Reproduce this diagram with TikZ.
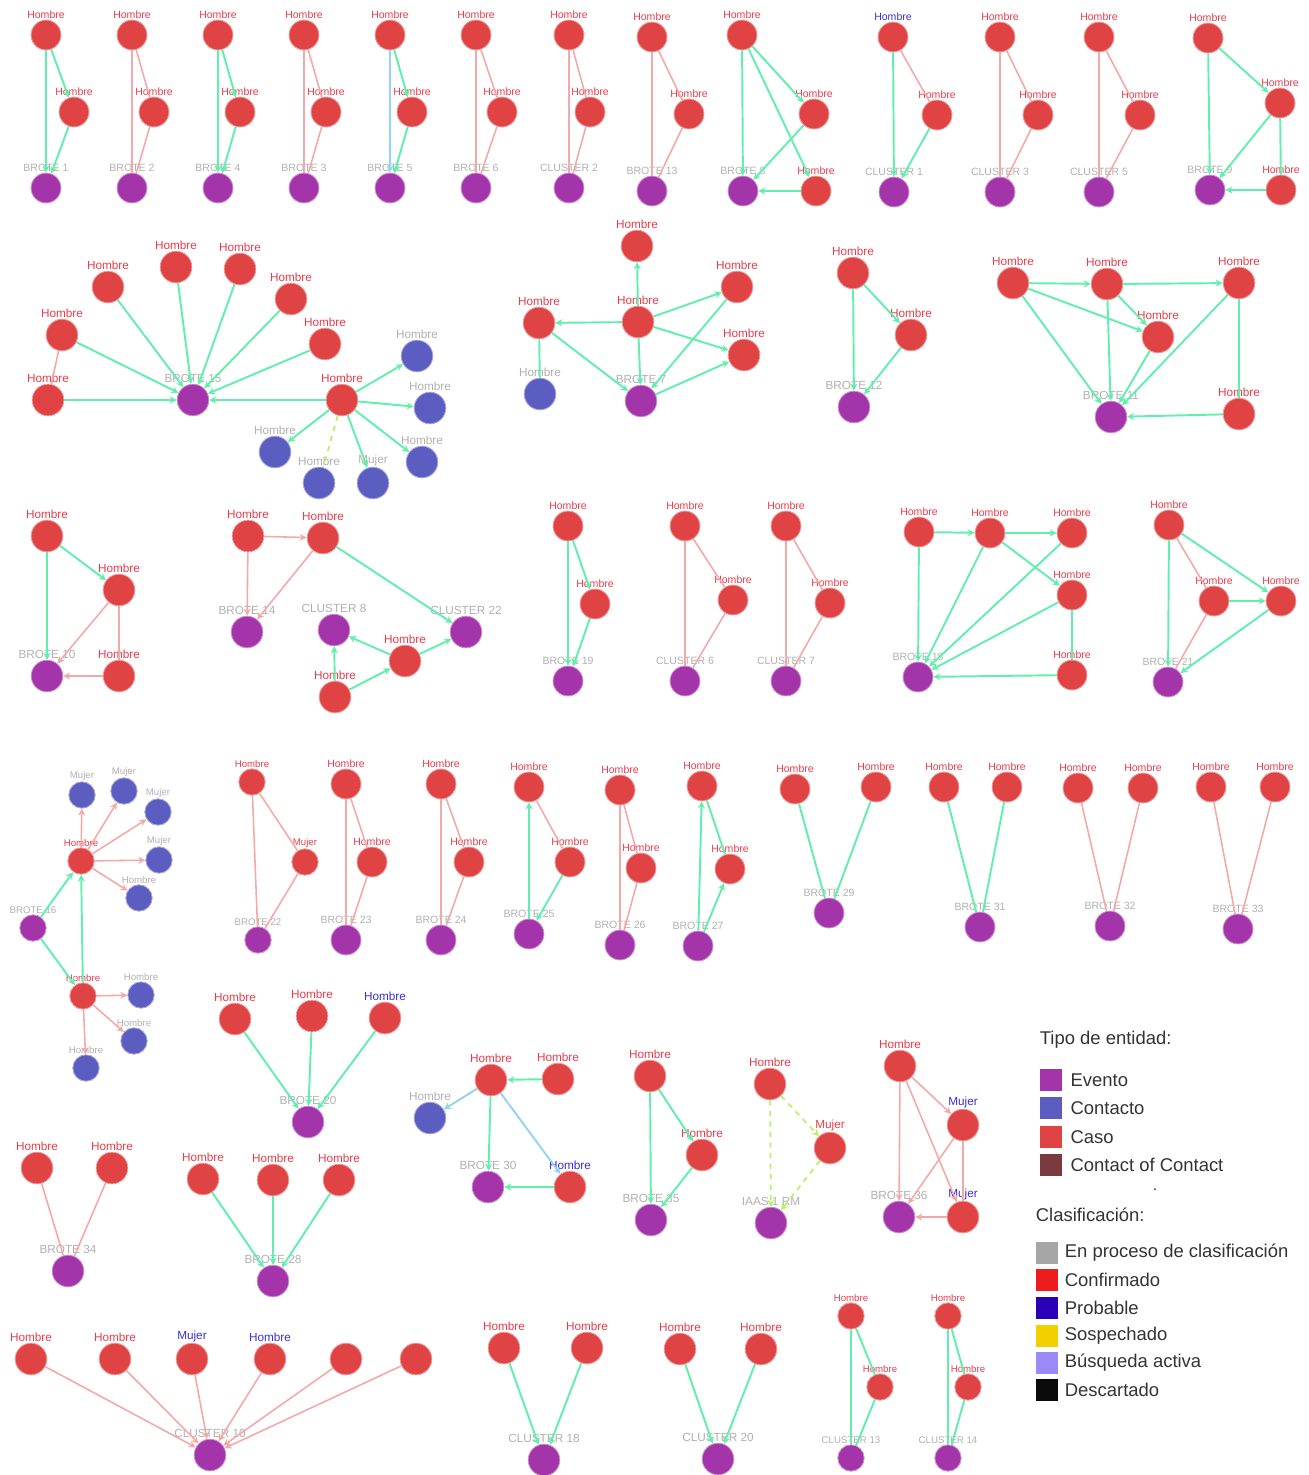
\documentclass[tikz,border=0pt]{standalone}
\usepackage{fontspec}
\setmainfont{Liberation Sans}
\usetikzlibrary{arrows.meta,positioning}
\definecolor{moradoevt}{HTML}{A334AA}
\definecolor{azulcto}{HTML}{5B5EC0}
\definecolor{rojocaso}{HTML}{E04343}
\definecolor{cafecofc}{HTML}{7A3A3E}
\definecolor{verde}{HTML}{62EEAC}
\definecolor{rosa}{HTML}{F5A8A8}
\definecolor{celeste}{HTML}{92D4F2}
\definecolor{lima}{HTML}{B8F06A}
\definecolor{txtrojo}{HTML}{EC3B4A}
\definecolor{txtgris}{HTML}{B0B0B0}
\definecolor{txtazul}{HTML}{3B2FD6}
\definecolor{gproceso}{HTML}{A6A6A6}
\definecolor{gconfirm}{HTML}{EE1D1D}
\definecolor{gprobable}{HTML}{2A00B8}
\definecolor{gsospecha}{HTML}{F2D000}
\definecolor{gbusqueda}{HTML}{9B8AF6}
\definecolor{gdescarte}{HTML}{0A0A0A}
\tikzset{
  nodo/.style={circle, inner sep=0pt, minimum size=17pt, line width=0.5pt},
  caso/.style={nodo, fill=rojocaso, draw=rojocaso!55!white},
  evt/.style={nodo, fill=moradoevt, draw=moradoevt!55!white},
  cto/.style={nodo, fill=azulcto, draw=azulcto!55!white},
  lr/.style={text=txtrojo}, lg/.style={text=txtgris}, lb/.style={text=txtazul},
  every label/.style={font=\fontsize{6}{7}\selectfont, inner sep=1.2pt},
  label distance=-1pt,
  mayor/.style={caso/.append style={minimum size=18pt}, evt/.append style={minimum size=18pt},
    cto/.append style={minimum size=18pt}, every label/.append style={font=\fontsize{6.7}{8}\selectfont}},
  menor/.style={caso/.append style={minimum size=15pt}, evt/.append style={minimum size=15pt},
    cto/.append style={minimum size=15pt}, every label/.append style={font=\fontsize{5.5}{6.5}\selectfont}},
  gr/.style={draw=verde, line width=1.1pt},
  gra/.style={gr, -{Stealth[length=4pt,width=4pt]}},
  pk/.style={draw=rosa, line width=0.9pt},
  pka/.style={pk, -{Stealth[length=4pt,width=4pt]}},
  cela/.style={draw=celeste, line width=1.1pt, -{Stealth[length=4pt,width=4pt]}},
  dsh/.style={draw=lima, line width=1pt, dashed, -{Stealth[length=4pt,width=4pt]}},
  cuadro/.style={minimum size=12.5pt, inner sep=0pt},
  leyenda/.style={font=\fontsize{10.5}{12}\selectfont, text=black!80, inner sep=2pt},
}
\begin{document}
\begin{tikzpicture}[x=0.02cm, y=-0.02cm]
\useasboundingbox (0,0) rectangle (1309,1475);

% ---- fila 1
\node[caso, label={[lr]above:Hombre}] (b1h) at (46,35) {};
\node[caso, label={[lr]above:Hombre}] (b1m) at (74,112) {};
\node[evt, label={[lg]above:BROTE 1}] (b1) at (46,188) {};
\draw[gra] (b1h) -- (b1);
\draw[gra] (b1h) -- (b1m);
\draw[gra] (b1m) -- (b1);

\node[caso, label={[lr]above:Hombre}] (b2h) at (132,35) {};
\node[caso, label={[lr]above:Hombre}] (b2m) at (154,112) {};
\node[evt, label={[lg]above:BROTE 2}] (b2) at (132,188) {};
\draw[pk] (b2h) -- (b2);
\draw[pk] (b2h) -- (b2m);
\draw[pk] (b2m) -- (b2);

\node[caso, label={[lr]above:Hombre}] (b4h) at (218,35) {};
\node[caso, label={[lr]above:Hombre}] (b4m) at (240,112) {};
\node[evt, label={[lg]above:BROTE 4}] (b4) at (218,188) {};
\draw[gra] (b4h) -- (b4);
\draw[gra] (b4h) -- (b4m);
\draw[gra] (b4m) -- (b4);

\node[caso, label={[lr]above:Hombre}] (b3h) at (304,35) {};
\node[caso, label={[lr]above:Hombre}] (b3m) at (326,112) {};
\node[evt, label={[lg]above:BROTE 3}] (b3) at (304,188) {};
\draw[pk] (b3h) -- (b3);
\draw[pk] (b3h) -- (b3m);
\draw[pk] (b3m) -- (b3);

\node[caso, label={[lr]above:Hombre}] (b5h) at (390,35) {};
\node[caso, label={[lr]above:Hombre}] (b5m) at (412,112) {};
\node[evt, label={[lg]above:BROTE 5}] (b5) at (390,188) {};
\draw[cela] (b5h) -- (b5);
\draw[gra] (b5h) -- (b5m);
\draw[gra] (b5m) -- (b5);

\node[caso, label={[lr]above:Hombre}] (b6h) at (476,35) {};
\node[caso, label={[lr]above:Hombre}] (b6m) at (502,112) {};
\node[evt, label={[lg]above:BROTE 6}] (b6) at (476,188) {};
\draw[pk] (b6h) -- (b6);
\draw[pk] (b6h) -- (b6m);
\draw[pk] (b6m) -- (b6);

\node[caso, label={[lr]above:Hombre}] (c2h) at (569,35) {};
\node[caso, label={[lr]above:Hombre}] (c2m) at (590,112) {};
\node[evt, label={[lg]above:CLUSTER 2}] (c2) at (569,188) {};
\draw[pk] (c2h) -- (c2);
\draw[pk] (c2h) -- (c2m);
\draw[pk] (c2m) -- (c2);

\node[caso, label={[lr]above:Hombre}] (b13h) at (652,37) {};
\node[caso, label={[lr]above:Hombre}] (b13m) at (689,114) {};
\node[evt, label={[lg]above:BROTE 13}] (b13) at (652,191) {};
\draw[pk] (b13h) -- (b13);
\draw[pk] (b13h) -- (b13m);
\draw[pk] (b13m) -- (b13);

\node[caso, label={[lr]above:Hombre}] (b8h) at (742,35) {};
\node[caso, label={[lr]above:Hombre}] (b8m) at (814,114) {};
\node[caso, label={[lr]above:Hombre}] (b8d) at (816,191) {};
\node[evt, label={[lg]above:BROTE 8}] (b8) at (743,191) {};
\draw[gra] (b8h) -- (b8);
\draw[gra] (b8h) -- (b8m);
\draw[gra] (b8h) -- (b8d);
\draw[gra] (b8m) -- (b8);
\draw[gra] (b8d) -- (b8);

\node[caso, label={[lb]above:Hombre}] (c1h) at (893,37) {};
\node[caso, label={[lr]above:Hombre}] (c1m) at (937,115) {};
\node[evt, label={[lg]above:CLUSTER 1}] (c1) at (894,192) {};
\draw[gra] (c1h) -- (c1);
\draw[pk] (c1h) -- (c1m);
\draw[gra] (c1m) -- (c1);

\node[caso, label={[lr]above:Hombre}] (c3h) at (1000,37) {};
\node[caso, label={[lr]above:Hombre}] (c3m) at (1038,115) {};
\node[evt, label={[lg]above:CLUSTER 3}] (c3) at (1000,192) {};
\draw[pk] (c3h) -- (c3);
\draw[pk] (c3h) -- (c3m);
\draw[pk] (c3m) -- (c3);

\node[caso, label={[lr]above:Hombre}] (c5h) at (1099,37) {};
\node[caso, label={[lr]above:Hombre}] (c5m) at (1140,115) {};
\node[evt, label={[lg]above:CLUSTER 5}] (c5) at (1099,192) {};
\draw[pk] (c5h) -- (c5);
\draw[pk] (c5h) -- (c5m);
\draw[pk] (c5m) -- (c5);

\node[caso, label={[lr]above:Hombre}] (b9h) at (1208,38) {};
\node[caso, label={[lr]above:Hombre}] (b9m) at (1280,103) {};
\node[caso, label={[lr]above:Hombre}] (b9d) at (1281,190) {};
\node[evt, label={[lg]above:BROTE 9}] (b9) at (1210,190) {};
\draw[gra] (b9h) -- (b9);
\draw[gra] (b9h) -- (b9m);
\draw[gra] (b9m) -- (b9);
\draw[gr] (b9m) -- (b9d);
\draw[gra] (b9d) -- (b9);

% ---- fila 2
\begin{scope}[mayor]
\node[evt, label={[lg]above:BROTE 15}] (b15) at (193,400) {};
\node[caso, label={[lr]above:Hombre}] (b15a) at (48,400) {};
\node[caso, label={[lr]above:Hombre}] (b15b) at (62,335) {};
\node[caso, label={[lr]above:Hombre}] (b15c) at (108,287) {};
\node[caso, label={[lr]above:Hombre}] (b15d) at (176,267) {};
\node[caso, label={[lr]above:Hombre}] (b15e) at (240,269) {};
\node[caso, label={[lr]above:Hombre}] (b15f) at (291,299) {};
\node[caso, label={[lr]above:Hombre}] (b15g) at (325,344) {};
\node[caso, label={[lr]above:Hombre}] (b15x) at (342,400) {};
\node[cto, label={[lg]above:Hombre}] (b15k1) at (417,356) {};
\node[cto, label={[lg]above:Hombre}] (b15k2) at (430,408) {};
\node[cto, label={[lg]above:Hombre}] (b15k3) at (422,462) {};
\node[cto, label={[lg]above:Hombre}] (b15k4) at (275,452) {};
\node[cto, label={[lg]above:Hombre}] (b15k5) at (319,483) {};
\node[cto, label={[lg]above:Mujer}] (b15k6) at (373,483) {};
\foreach \n in {a,b,c,d,e,f,g,x}
  \draw[gra] (b15\n) -- (b15);
\draw[pk] (b15b) -- (b15a);
\foreach \n in {1,2,3,4,6}
  \draw[gra] (b15x) -- (b15k\n);
\draw[dsh, -] (b15x) -- (b15k5);

\node[evt, label={[lg]above:BROTE 7}] (b7) at (641,401) {};
\node[caso, label={[lr]above:Hombre}] (b7a) at (637,246) {};
\node[caso, label={[lr]above:Hombre}] (b7b) at (638,322) {};
\node[caso, label={[lr]above:Hombre}] (b7c) at (539,323) {};
\node[caso, label={[lr]above:Hombre}] (b7d) at (737,287) {};
\node[caso, label={[lr]above:Hombre}] (b7e) at (744,355) {};
\node[cto, label={[lg]above:Hombre}] (b7k) at (540,394) {};
\draw[gra] (b7b) -- (b7a);
\draw[gra] (b7b) -- (b7c);
\draw[gra] (b7b) -- (b7d);
\draw[gra] (b7b) -- (b7e);
\draw[gra] (b7b) -- (b7);
\draw[gr] (b7c) -- (b7k);
\draw[gra] (b7c) -- (b7);
\draw[gra] (b7d) -- (b7);
\draw[gra] (b7) -- (b7e);

\node[caso, label={[lr]above:Hombre}] (b12a) at (853,273) {};
\node[caso, label={[lr]above:Hombre}] (b12b) at (911,335) {};
\node[evt, label={[lg]above:BROTE 12}] (b12) at (854,407) {};
\draw[gra] (b12a) -- (b12);
\draw[gra] (b12a) -- (b12b);
\draw[gra] (b12b) -- (b12);

\node[caso, label={[lr]above:Hombre}] (b11a) at (1013,283) {};
\node[caso, label={[lr]above:Hombre}] (b11b) at (1107,284) {};
\node[caso, label={[lr]above:Hombre}] (b11c) at (1239,283) {};
\node[caso, label={[lr]above:Hombre}] (b11d) at (1158,337) {};
\node[caso, label={[lr]above:Hombre}] (b11e) at (1239,414) {};
\node[evt, label={[lg]above:BROTE 11}] (b11) at (1111,417) {};
\draw[gra] (b11a) -- (b11b);
\draw[gra] (b11b) -- (b11c);
\draw[gra] (b11a) -- (b11d);
\draw[gra] (b11b) -- (b11d);
\foreach \n in {a,b,c,d,e}
  \draw[gra] (b11\n) -- (b11);
\draw[gr] (b11c) -- (b11e);

% ---- fila 3 (izq.)
\node[caso, label={[lr]above:Hombre}] (b10a) at (47,536) {};
\node[caso, label={[lr]above:Hombre}] (b10b) at (119,590) {};
\node[caso, label={[lr]above:Hombre}] (b10c) at (119,676) {};
\node[evt, label={[lg]above:BROTE 10}] (b10) at (47,676) {};
\draw[gra] (b10a) -- (b10);
\draw[gra] (b10a) -- (b10b);
\draw[pka] (b10b) -- (b10);
\draw[pk] (b10b) -- (b10c);
\draw[pka] (b10c) -- (b10);

\node[caso, label={[lr]above:Hombre}] (b14a) at (248,536) {};
\node[caso, label={[lr]above:Hombre}] (b14b) at (323,538) {};
\node[evt, label={[lg]above:BROTE 14}] (b14) at (247,632) {};
\node[evt, label={[lg]above:CLUSTER 8}] (c8) at (334,630) {};
\node[evt, label={[lg]above:CLUSTER 22}] (c22) at (466,632) {};
\node[caso, label={[lr]above:Hombre}] (b14c) at (405,661) {};
\node[caso, label={[lr]above:Hombre}] (b14d) at (335,697) {};
\draw[pka] (b14a) -- (b14b);
\draw[pka] (b14a) -- (b14);
\draw[pka] (b14b) -- (b14);
\draw[gra] (b14b) -- (c22);
\draw[gra] (b14c) -- (c8);
\draw[gra] (b14c) -- (c22);
\draw[gra] (b14d) -- (b14c);
\draw[gra] (b14d) -- (c8);
\end{scope}

% ---- fila 3 (der.)
\node[caso, label={[lr]above:Hombre}] (b19a) at (568,526) {};
\node[caso, label={[lr]above:Hombre}] (b19b) at (595,604) {};
\node[evt, label={[lg]above:BROTE 19}] (b19) at (568,681) {};
\draw[gra] (b19a) -- (b19);
\draw[gra] (b19a) -- (b19b);
\draw[gra] (b19b) -- (b19);

\node[caso, label={[lr]above:Hombre}] (c6a) at (685,526) {};
\node[caso, label={[lr]above:Hombre}] (c6b) at (733,600) {};
\node[evt, label={[lg]above:CLUSTER 6}] (c6) at (685,681) {};
\draw[pk] (c6a) -- (c6);
\draw[pk] (c6a) -- (c6b);
\draw[pk] (c6b) -- (c6);

\node[caso, label={[lr]above:Hombre}] (c7a) at (786,526) {};
\node[caso, label={[lr]above:Hombre}] (c7b) at (830,603) {};
\node[evt, label={[lg]above:CLUSTER 7}] (c7) at (786,681) {};
\draw[pk] (c7a) -- (c7);
\draw[pk] (c7a) -- (c7b);
\draw[pk] (c7b) -- (c7);

\node[caso, label={[lr]above:Hombre}] (b18a) at (919,532) {};
\node[caso, label={[lr]above:Hombre}] (b18b) at (990,533) {};
\node[caso, label={[lr]above:Hombre}] (b18c) at (1072,533) {};
\node[caso, label={[lr]above:Hombre}] (b18d) at (1072,595) {};
\node[caso, label={[lr]above:Hombre}] (b18e) at (1072,675) {};
\node[evt, label={[lg]above:BROTE 18}] (b18) at (918,677) {};
\draw[gra] (b18a) -- (b18b);
\draw[gra] (b18b) -- (b18c);
\draw[gra] (b18b) -- (b18d);
\foreach \n in {a,b,c,d,e}
  \draw[gra] (b18\n) -- (b18);
\draw[gr] (b18d) -- (b18e);

\node[caso, label={[lr]above:Hombre}] (b21a) at (1169,525) {};
\node[caso, label={[lr]above:Hombre}] (b21b) at (1214,601) {};
\node[caso, label={[lr]above:Hombre}] (b21c) at (1281,601) {};
\node[evt, label={[lg]above:BROTE 21}] (b21) at (1168,682) {};
\draw[gra] (b21a) -- (b21);
\draw[pk] (b21a) -- (b21b);
\draw[gra] (b21a) -- (b21c);
\draw[gra] (b21b) -- (b21c);
\draw[pk] (b21b) -- (b21);
\draw[gra] (b21c) -- (b21);

% ---- fila 4
\begin{scope}[menor]
\node[caso, label={[lr]above:Hombre}] (b16x) at (81,861) {};
\node[cto, label={[lg]above:Mujer}] (b16k1) at (82,795) {};
\node[cto, label={[lg]above:Mujer}] (b16k2) at (124,791) {};
\node[cto, label={[lg]above:Mujer}] (b16k3) at (158,812) {};
\node[cto, label={[lg]above:Mujer}] (b16k4) at (159,860) {};
\node[cto, label={[lg]above:Hombre}] (b16k5) at (139,898) {};
\node[evt, label={[lg]above:BROTE 16}] (b16) at (33,928) {};
\node[caso, label={[lr]above:Hombre}] (b16y) at (83,996) {};
\node[cto, label={[lg]above:Hombre}] (b16k6) at (141,995) {};
\node[cto, label={[lg]above:Hombre}] (b16k7) at (134,1041) {};
\node[cto, label={[lg]above:Hombre}] (b16k8) at (86,1068) {};
\foreach \n in {1,2,3,4,5}
  \draw[pka] (b16x) -- (b16k\n);
\draw[gra] (b16) -- (b16x);
\draw[gra] (b16y) -- (b16x);
\draw[gra] (b16) -- (b16y);
\foreach \n in {6,7,8}
  \draw[pka] (b16y) -- (b16k\n);

\node[caso, label={[lr]above:Hombre}] (b22a) at (252,782) {};
\node[caso, label={[lr]above:Mujer}] (b22b) at (305,862) {};
\node[evt, label={[lg]above:BROTE 22}] (b22) at (258,940) {};
\draw[pk] (b22a) -- (b22);
\draw[pk] (b22a) -- (b22b);
\draw[pk] (b22b) -- (b22);
\end{scope}

\node[caso, label={[lr]above:Hombre}] (b23a) at (346,784) {};
\node[caso, label={[lr]above:Hombre}] (b23b) at (372,862) {};
\node[evt, label={[lg]above:BROTE 23}] (b23) at (346,940) {};
\draw[pk] (b23a) -- (b23);
\draw[pk] (b23a) -- (b23b);
\draw[pk] (b23b) -- (b23);

\node[caso, label={[lr]above:Hombre}] (b24a) at (441,784) {};
\node[caso, label={[lr]above:Hombre}] (b24b) at (469,862) {};
\node[evt, label={[lg]above:BROTE 24}] (b24) at (441,940) {};
\draw[pk] (b24a) -- (b24);
\draw[pk] (b24a) -- (b24b);
\draw[pk] (b24b) -- (b24);

\node[caso, label={[lr]above:Hombre}] (b25a) at (529,787) {};
\node[caso, label={[lr]above:Hombre}] (b25b) at (570,862) {};
\node[evt, label={[lg]above:BROTE 25}] (b25) at (529,934) {};
\draw[gra] (b25) -- (b25a);
\draw[pk] (b25a) -- (b25b);
\draw[gra] (b25b) -- (b25);

\node[caso, label={[lr]above:Hombre}] (b26a) at (620,790) {};
\node[caso, label={[lr]above:Hombre}] (b26b) at (641,868) {};
\node[evt, label={[lg]above:BROTE 26}] (b26) at (620,945) {};
\draw[pk] (b26a) -- (b26);
\draw[pk] (b26a) -- (b26b);
\draw[pk] (b26b) -- (b26);

\node[caso, label={[lr]above:Hombre}] (b27a) at (702,786) {};
\node[caso, label={[lr]above:Hombre}] (b27b) at (730,869) {};
\node[evt, label={[lg]above:BROTE 27}] (b27) at (698,946) {};
\draw[gra] (b27) -- (b27a);
\draw[gr] (b27a) -- (b27b);
\draw[gra] (b27) -- (b27b);

\node[caso, label={[lr]above:Hombre}] (b29a) at (795,789) {};
\node[caso, label={[lr]above:Hombre}] (b29b) at (876,787) {};
\node[evt, label={[lg]above:BROTE 29}] (b29) at (829,913) {};
\draw[gr] (b29a) -- (b29);
\draw[gr] (b29b) -- (b29);

\node[caso, label={[lr]above:Hombre}] (b31a) at (944,787) {};
\node[caso, label={[lr]above:Hombre}] (b31b) at (1007,787) {};
\node[evt, label={[lg]above:BROTE 31}] (b31) at (980,927) {};
\draw[gr] (b31a) -- (b31);
\draw[gr] (b31b) -- (b31);

\node[caso, label={[lr]above:Hombre}] (b32a) at (1078,788) {};
\node[caso, label={[lr]above:Hombre}] (b32b) at (1143,788) {};
\node[evt, label={[lg]above:BROTE 32}] (b32) at (1110,926) {};
\draw[pk] (b32a) -- (b32);
\draw[pk] (b32b) -- (b32);

\node[caso, label={[lr]above:Hombre}] (b33a) at (1211,787) {};
\node[caso, label={[lr]above:Hombre}] (b33b) at (1275,787) {};
\node[evt, label={[lg]above:BROTE 33}] (b33) at (1238,929) {};
\draw[pk] (b33a) -- (b33);
\draw[pk] (b33b) -- (b33);

% ---- filas 5-7
\begin{scope}[mayor]
\node[caso, label={[lr]above:Hombre}] (b20a) at (235,1019) {};
\node[caso, label={[lr]above:Hombre}] (b20b) at (312,1016) {};
\node[caso, label={[lb]above:Hombre}] (b20c) at (385,1018) {};
\node[evt, label={[lg]above:BROTE 20}] (b20) at (308,1122) {};
\foreach \n in {a,b,c}
  \draw[gra] (b20\n) -- (b20);

\node[caso, label={[lr]above:Hombre}] (b30a) at (491,1080) {};
\node[caso, label={[lr]above:Hombre}] (b30b) at (558,1079) {};
\node[cto, label={[lg]above:Hombre}] (b30k) at (430,1118) {};
\node[evt, label={[lg]above:BROTE 30}] (b30) at (488,1187) {};
\node[caso, label={[lb]above:Hombre}] (b30c) at (570,1187) {};
\draw[gra] (b30b) -- (b30a);
\draw[cela] (b30a) -- (b30k);
\draw[gra] (b30a) -- (b30);
\draw[cela] (b30a) -- (b30c);
\draw[gra] (b30c) -- (b30);

\node[caso, label={[lr]above:Hombre}] (b35a) at (650,1076) {};
\node[caso, label={[lr]above:Hombre}] (b35b) at (702,1155) {};
\node[evt, label={[lg]above:BROTE 35}] (b35) at (651,1220) {};
\draw[gra] (b35a) -- (b35);
\draw[gra] (b35a) -- (b35b);
\draw[gra] (b35b) -- (b35);

\node[caso, label={[lr]above:Hombre}] (iaa) at (770,1084) {};
\node[caso, label={[lr]above:Mujer}] (iab) at (830,1148) {};
\node[evt, label={[lg]above:IAAS 1 RM}] (iaas) at (771,1223) {};
\draw[dsh] (iaa) -- (iaas);
\draw[dsh] (iaa) -- (iab);
\draw[dsh] (iab) -- (iaas);

\node[caso, label={[lr]above:Hombre}] (b36a) at (900,1066) {};
\node[caso, label={[lb]above:Mujer}] (b36b) at (963,1125) {};
\node[caso, label={[lb]above:Mujer}] (b36c) at (963,1217) {};
\node[evt, label={[lg]above:BROTE 36}] (b36) at (899,1217) {};
\draw[pka] (b36a) -- (b36);
\draw[pka] (b36a) -- (b36b);
\draw[pka] (b36a) -- (b36c);
\draw[pka] (b36b) -- (b36);
\draw[pk] (b36b) -- (b36c);
\draw[pka] (b36c) -- (b36);

\node[caso, label={[lr]above:Hombre}] (b34a) at (37,1168) {};
\node[caso, label={[lr]above:Hombre}] (b34b) at (112,1168) {};
\node[evt, label={[lg]above:BROTE 34}] (b34) at (68,1271) {};
\draw[pk] (b34a) -- (b34);
\draw[pk] (b34b) -- (b34);

\node[caso, label={[lr]above:Hombre}] (b28a) at (203,1179) {};
\node[caso, label={[lr]above:Hombre}] (b28b) at (273,1180) {};
\node[caso, label={[lr]above:Hombre}] (b28c) at (339,1180) {};
\node[evt, label={[lg]above:BROTE 28}] (b28) at (273,1281) {};
\foreach \n in {a,b,c}
  \draw[gra] (b28\n) -- (b28);

\node[caso, label={[lr]above:Hombre}] (c10a) at (31,1359) {};
\node[caso, label={[lr]above:Hombre}] (c10b) at (115,1359) {};
\node[caso, label={[lb]above:Mujer}] (c10c) at (192,1359) {};
\node[caso, label={[lb]above:Hombre}] (c10d) at (270,1359) {};
\node[caso] (c10e) at (346,1359) {};
\node[caso] (c10f) at (416,1359) {};
\node[evt, label={[lg]above:CLUSTER 10}] (c10) at (210,1455) {};
\foreach \n in {a,b,c,d,e,f}
  \draw[pka] (c10\n) -- (c10);

\node[caso, label={[lr]above:Hombre}] (c18a) at (504,1348) {};
\node[caso, label={[lr]above:Hombre}] (c18b) at (587,1348) {};
\node[evt, label={[lg]above:CLUSTER 18}] (c18) at (544,1460) {};
\draw[gra] (c18a) -- (c18);
\draw[gra] (c18b) -- (c18);

\node[caso, label={[lr]above:Hombre}] (c20a) at (680,1349) {};
\node[caso, label={[lr]above:Hombre}] (c20b) at (761,1349) {};
\node[evt, label={[lg]above:CLUSTER 20}] (c20) at (718,1459) {};
\draw[gra] (c20a) -- (c20);
\draw[gra] (c20b) -- (c20);
\end{scope}

\begin{scope}[menor]
\node[caso, label={[lr]above:Hombre}] (c13a) at (851,1316) {};
\node[caso, label={[lr]above:Hombre}] (c13b) at (880,1387) {};
\node[evt, label={[lg]above:CLUSTER 13}] (c13) at (851,1458) {};
\draw[gr] (c13a) -- (c13);
\draw[gr] (c13a) -- (c13b);
\draw[gr] (c13b) -- (c13);

\node[caso, label={[lr]above:Hombre}] (c14a) at (948,1316) {};
\node[caso, label={[lr]above:Hombre}] (c14b) at (968,1387) {};
\node[evt, label={[lg]above:CLUSTER 14}] (c14) at (948,1458) {};
\draw[gr] (c14a) -- (c14);
\draw[gr] (c14a) -- (c14b);
\draw[gr] (c14b) -- (c14);
\end{scope}

% ---- leyenda
\node[leyenda, anchor=west] (tipo) at (1036,1040) {Tipo de entidad:};
\node[cuadro, fill=moradoevt] (le1) at (1051,1080) {};
\node[leyenda, right=2.5pt of le1] {Evento};
\node[cuadro, fill=azulcto] (le2) at (1051,1108) {};
\node[leyenda, right=2.5pt of le2] {Contacto};
\node[cuadro, fill=rojocaso] (le3) at (1051,1137) {};
\node[leyenda, right=2.5pt of le3] {Caso};
\node[cuadro, fill=cafecofc] (le4) at (1051,1165) {};
\node[leyenda, right=2.5pt of le4] {Contact of Contact};
\node[font=\fontsize{8}{9}\selectfont] (punto) at (1155,1190) {.};

\node[leyenda, anchor=west] (clasif) at (1032,1215) {Clasificación:};
\node[cuadro, fill=gproceso] (lc1) at (1047,1253) {};
\node[leyenda, right=1.5pt of lc1] {En proceso de clasificación};
\node[cuadro, fill=gconfirm] (lc2) at (1047,1280) {};
\node[leyenda, right=1.5pt of lc2] {Confirmado};
\node[cuadro, fill=gprobable] (lc3) at (1047,1308) {};
\node[leyenda, right=1.5pt of lc3] {Probable};
\node[cuadro, fill=gsospecha] (lc4) at (1047,1336) {};
\node[leyenda, right=1.5pt of lc4] {Sospechado};
\node[cuadro, fill=gbusqueda] (lc5) at (1047,1363) {};
\node[leyenda, right=1.5pt of lc5] {Búsqueda activa};
\node[cuadro, fill=gdescarte] (lc6) at (1047,1390) {};
\node[leyenda, right=1.5pt of lc6] {Descartado};

\end{tikzpicture}
\end{document}
